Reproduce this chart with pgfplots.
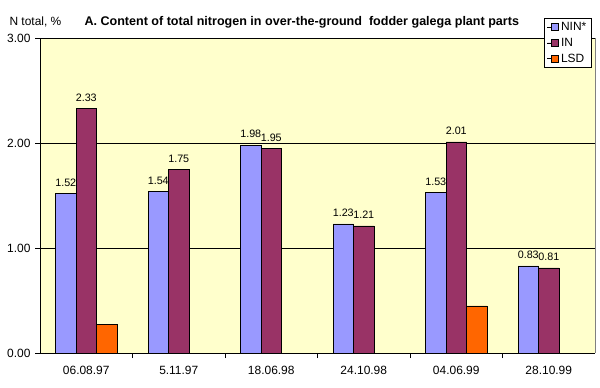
\documentclass[border=0pt]{standalone}
\usepackage{pgfplots}
\pgfplotsset{compat=1.18}
\usepackage{fontspec}
\setmainfont{Liberation Sans}
\definecolor{nin}{HTML}{9999FF}
\definecolor{inc}{HTML}{993366}
\definecolor{lsd}{HTML}{FF6600}
\definecolor{bg}{HTML}{FFFFCC}
\begin{document}
\begin{tikzpicture}[x=1bp,y=1bp]
\path[use as bounding box] (0,0) rectangle (600,387);
\begin{axis}[
  at={(40bp,34bp)}, anchor=south west,
  scale only axis, width=555bp, height=315bp,
  ymin=0, ymax=3, xmin=-0.5, xmax=5.5,
  ybar=0pt, bar width=20.5bp,
  axis background/.style={fill=bg},
  axis x line*=bottom, axis y line*=left,
  axis line style={black, line width=0.6pt, -},
  ytick={0,1,2,3},
  yticklabel style={/pgf/number format/fixed, /pgf/number format/fixed zerofill, /pgf/number format/precision=2},
  /pgf/number format/assume math mode=true,
  ymajorgrids, grid style={black, line width=0.5pt},
  xtick={0,1,2,3,4,5},
  xticklabels={06.08.97,5.11.97,18.06.98,24.10.98,04.06.99,28.10.99},
  x tick style={draw=none},
  y tick style={black, line width=0.6pt},
  tick align=outside, major tick length=5bp,
  extra x ticks={0.5,1.5,2.5,3.5,4.5},
  extra x tick labels={},
  extra x tick style={x tick style={draw=black, line width=0.6pt}, major tick length=5bp, tick align=outside, grid=none},
  ticklabel style={font=\fontsize{12}{14}\selectfont},
  xticklabel style={yshift=-5bp},
  yticklabel style={xshift=-1bp},
  nodes near coords,
  every node near coord/.append style={font=\fontsize{10.8}{13}\selectfont, black, /pgf/number format/fixed, /pgf/number format/fixed zerofill, /pgf/number format/precision=2, /pgf/number format/assume math mode=true, yshift=3.5bp},
  legend style={at={(0.993,1.0635)}, anchor=north east, draw=black, line width=0.6pt, font=\fontsize{12}{14}\selectfont, inner xsep=3bp, inner ysep=2bp, row sep=2bp, legend cell align=left, nodes={inner xsep=1.5bp}},
  legend image code/.code={\path (0bp,0bp) -- (12bp,0bp); \draw[#1, draw=black, line width=0.4pt] (4bp,-3.5bp) rectangle (11bp,3.5bp);},
  clip=false,
]
\addplot[fill=nin, draw=black, line width=0.5pt] coordinates {(0,1.52) (1,1.54) (2,1.98) (3,1.23) (4,1.53) (5,0.83)};
\addplot[fill=inc, draw=black, line width=0.5pt] coordinates {(0,2.33) (1,1.75) (2,1.95) (3,1.21) (4,2.01) (5,0.81)};
\addplot[fill=lsd, draw=black, line width=0.5pt, nodes near coords=] coordinates {(0,0.27) (4,0.45)};
\legend{NIN*,IN,LSD}
\end{axis}
\draw[gray, line width=0.5pt] (595,34) -- (595,349);
\node[anchor=base west, font=\fontsize{12}{14}\selectfont] at (6,362) {N total, \%};
\node[anchor=base west, font=\bfseries\fontsize{12.6}{15}\selectfont] at (81,362) {A. Content of total nitrogen in over-the-ground\ \ fodder galega plant parts};
\end{tikzpicture}
\end{document}
